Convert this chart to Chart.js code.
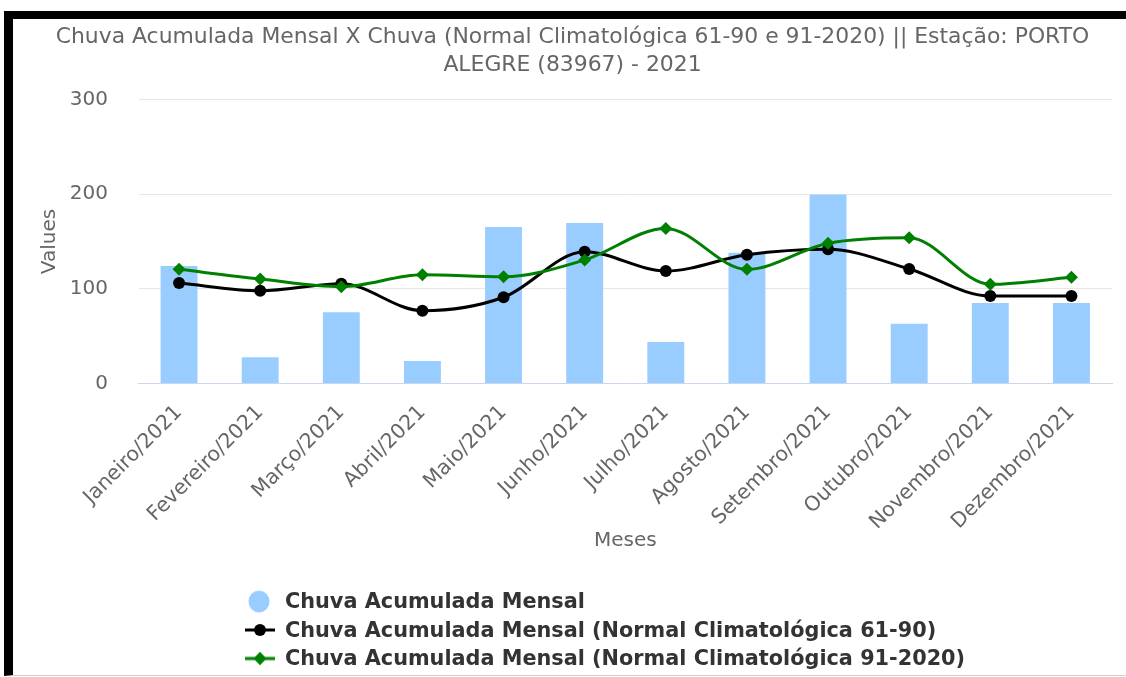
<!DOCTYPE html>
<html>
<head>
<meta charset="utf-8">
<script src="https://cdn.jsdelivr.net/npm/chart.js@4"></script>
<style>
  html, body { margin: 0; padding: 0; background: #fff; }
  body { width: 1126px; height: 677px; position: relative; overflow: hidden; font-family: "DejaVu Sans", sans-serif; }
  #frame { position: absolute; left: 4px; top: 11px; right: 0; bottom: 1px;
    border-top: 8px solid #000; border-left: 9px solid #000; border-bottom: 1px solid #d0d0d0; }
  #wrap { position: absolute; left: 13px; top: 19px; width: 1113px; height: 656px; }
  #legend { position: absolute; left: 245px; top: 587px; font: bold 20.8px "DejaVu Sans", sans-serif; color: #333; }
  #legend .row { height: 28.5px; line-height: 28.5px; position: relative; padding-left: 40px; white-space: nowrap; }
  #legend .sym { position: absolute; left: 0; top: 0; width: 30px; height: 28.5px; }
</style>
</head>
<body>
<div id="frame"></div>
<div id="wrap"><canvas id="chart-chuva" width="1113" height="656"></canvas></div>
<div id="legend"></div>
<script>
const meses = ['Janeiro/2021', 'Fevereiro/2021', 'Março/2021', 'Abril/2021', 'Maio/2021', 'Junho/2021',
  'Julho/2021', 'Agosto/2021', 'Setembro/2021', 'Outubro/2021', 'Novembro/2021', 'Dezembro/2021'];
const chuvaMensal = [124.1, 27.7, 75.2, 23.8, 165.3, 169.5, 43.8, 138.2, 199.6, 63.2, 85.0, 85.0];
const normal6190 = [106.2, 98.0, 105.4, 76.9, 91.1, 139.2, 118.8, 136.0, 141.8, 121.0, 92.4, 92.4];
const normal9120 = [120.6, 110.4, 102.3, 114.9, 112.8, 130.5, 163.9, 120.6, 148.1, 154.0, 104.8, 112.2];
const yTicks = [0, 100, 200, 300];

const tituloLinhas = [
  'Chuva Acumulada Mensal X Chuva (Normal Climatológica 61-90 e 91-2020) || Estação: PORTO',
  'ALEGRE (83967) - 2021'
];

const cinza = '#666666';
const fonte = '"DejaVu Sans", sans-serif';

const ctx = document.getElementById('chart-chuva').getContext('2d');
const chart = new Chart(ctx, {
  data: {
    labels: meses,
    datasets: [
      {
        type: 'line',
        label: 'Chuva Acumulada Mensal (Normal Climatológica 91-2020)',
        data: normal9120,
        borderColor: '#008000',
        backgroundColor: '#008000',
        borderWidth: 3,
        cubicInterpolationMode: 'monotone',
        pointStyle: 'rectRot',
        pointRadius: 6.5,
        pointBorderWidth: 0,
        order: 1
      },
      {
        type: 'line',
        label: 'Chuva Acumulada Mensal (Normal Climatológica 61-90)',
        data: normal6190,
        borderColor: '#000000',
        backgroundColor: '#000000',
        borderWidth: 3,
        cubicInterpolationMode: 'monotone',
        pointStyle: 'circle',
        pointRadius: 6,
        pointBorderWidth: 0,
        order: 2
      },
      {
        type: 'bar',
        label: 'Chuva Acumulada Mensal',
        data: chuvaMensal,
        backgroundColor: '#99ccff',
        barPercentage: 0.455,
        categoryPercentage: 1,
        order: 3
      }
    ]
  },
  options: {
    responsive: false,
    animation: false,
    layout: { padding: { left: 20, right: 14, top: 0, bottom: 122 } },
    plugins: {
      legend: { display: false },
      tooltip: { enabled: false },
      title: {
        display: true,
        text: tituloLinhas,
        color: cinza,
        font: { family: fonte, size: 21.9, weight: 'normal', lineHeight: 1.28 },
        padding: { top: 4.5, bottom: 20 }
      }
    },
    scales: {
      x: {
        grid: { display: false, drawTicks: false },
        border: { display: true, color: '#ccd6eb', width: 1 },
        ticks: {
          color: cinza,
          font: { family: fonte, size: 20.5 },
          minRotation: 45,
          maxRotation: 45,
          padding: 17,
          autoSkip: false
        },
        title: {
          display: true,
          text: 'Meses',
          color: cinza,
          font: { family: fonte, size: 20 },
          padding: { top: 0, bottom: 0 }
        },
        afterFit: s => { s.height = 169.5; }
      },
      y: {
        min: 0,
        max: 300,
        afterBuildTicks: s => { s.ticks = yTicks.map(v => ({ value: v })); },
        grid: { color: '#e6e6e6', drawTicks: false },
        border: { display: false },
        ticks: {
          color: cinza,
          font: { family: fonte, size: 20 },
          padding: 30.5
        },
        title: {
          display: true,
          text: 'Values',
          color: cinza,
          font: { family: fonte, size: 20 },
          padding: { top: 5, bottom: 0 }
        },
        afterFit: s => { s.width = 105.5; }
      }
    }
  }
});

// legenda em HTML, na ordem: barras, 61-90, 91-2020
const legenda = document.getElementById('legend');
[2, 1, 0].forEach(i => {
  const ds = chart.data.datasets[i];
  const row = document.createElement('div');
  row.className = 'row';
  const sym = document.createElement('canvas');
  sym.className = 'sym';
  sym.width = 30; sym.height = 28;
  const c = sym.getContext('2d');
  c.fillStyle = ds.backgroundColor;
  if (ds.type === 'bar') {
    c.beginPath(); c.arc(14, 14, 10.5, 0, Math.PI * 2); c.fill();
  } else {
    c.strokeStyle = ds.borderColor;
    c.lineWidth = 3;
    c.beginPath(); c.moveTo(0, 14); c.lineTo(30, 14); c.stroke();
    c.beginPath();
    if (ds.pointStyle === 'circle') {
      c.arc(15, 14, 6, 0, Math.PI * 2);
    } else {
      c.moveTo(15, 7.5); c.lineTo(21.5, 14); c.lineTo(15, 20.5); c.lineTo(8.5, 14); c.closePath();
    }
    c.fill();
  }
  row.appendChild(sym);
  row.appendChild(document.createTextNode(ds.label));
  legenda.appendChild(row);
});
</script>
</body>
</html>
